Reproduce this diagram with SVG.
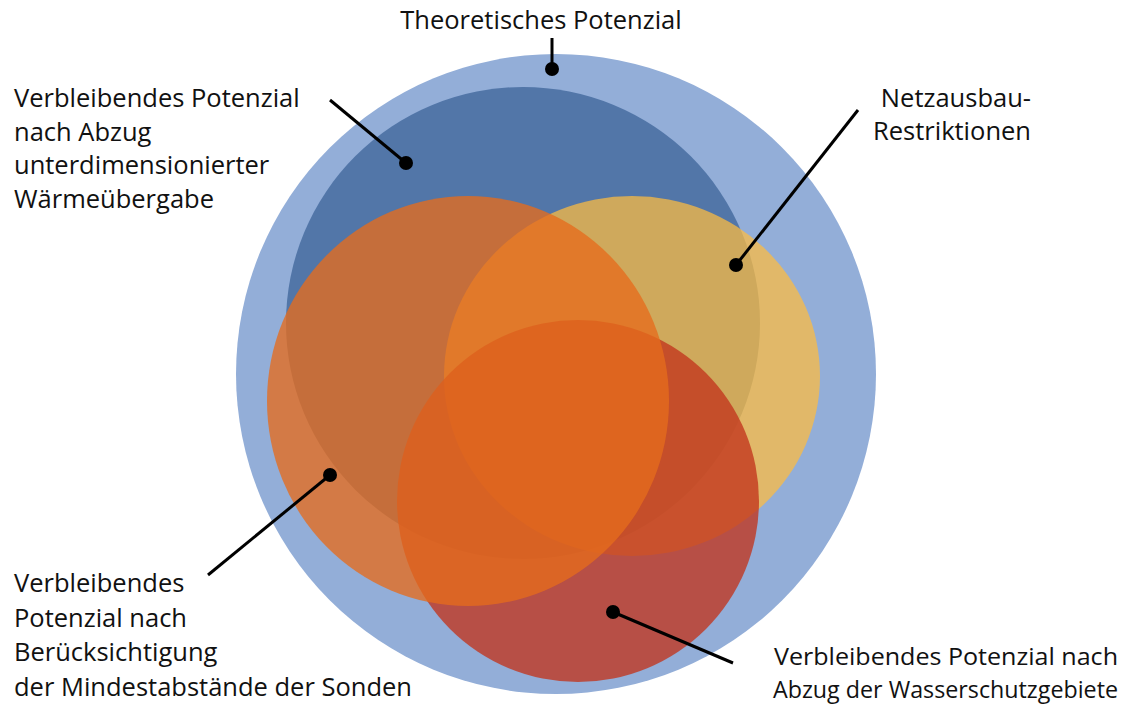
<svg xmlns="http://www.w3.org/2000/svg" width="1128" height="711" viewBox="0 0 1128 711">
  <style>
    .lbl { font-family: "Open Sans", "Liberation Sans", sans-serif; font-size: 25.5px; fill: #111; }
    .lbl-br { font-size: 24.5px; }
    .lead { stroke: #000; stroke-width: 3; fill: none; }
    .dot { fill: #000; }
  </style>
  <rect width="1128" height="711" fill="#fff"/>

  <!-- nested potential areas, translucent so overlaps mix -->
  <g id="theoretisch">
    <circle cx="556" cy="374" r="320" fill="#93AED8"/>
  </g>
  <g id="waermeuebergabe">
    <ellipse cx="523" cy="323" rx="237" ry="236" fill="#5276A8"/>
  </g>
  <g id="netzausbau">
    <ellipse cx="632" cy="376" rx="188" ry="180" fill="#FFBD3F" fill-opacity="0.72"/>
  </g>
  <g id="wasserschutz">
    <ellipse cx="578" cy="501" rx="181" ry="181" fill="#C2351C" fill-opacity="0.78"/>
  </g>
  <g id="mindestabstaende">
    <ellipse cx="468" cy="401" rx="201" ry="205" fill="#E56C1C" fill-opacity="0.78"/>
  </g>

  <g id="connectors">
    <line class="lead" x1="552" y1="38" x2="552" y2="69"/>
    <circle class="dot" cx="552" cy="69" r="7"/>
    <line class="lead" x1="330" y1="100" x2="406" y2="163"/>
    <circle class="dot" cx="406" cy="163" r="7"/>
    <line class="lead" x1="858" y1="110" x2="736" y2="265"/>
    <circle class="dot" cx="736" cy="265" r="7"/>
    <line class="lead" x1="208" y1="575" x2="330" y2="475"/>
    <circle class="dot" cx="330" cy="475" r="7"/>
    <line class="lead" x1="733" y1="663" x2="613" y2="612"/>
    <circle class="dot" cx="613" cy="612" r="7"/>
  </g>

  <g id="labels">
    <text class="lbl" x="541" y="29" text-anchor="middle">Theoretisches Potenzial</text>
    <text class="lbl" x="14" y="107">Verbleibendes Potenzial</text>
    <text class="lbl" x="14" y="141">nach Abzug</text>
    <text class="lbl" x="14" y="174">unterdimensionierter</text>
    <text class="lbl" x="14" y="208">Wärmeübergabe</text>
    <text class="lbl" x="1031" y="107" text-anchor="end">Netzausbau-</text>
    <text class="lbl" x="1031" y="140" text-anchor="end">Restriktionen</text>
    <text class="lbl" x="14" y="592">Verbleibendes</text>
    <text class="lbl" x="14" y="627">Potenzial nach</text>
    <text class="lbl" x="14" y="661">Berücksichtigung</text>
    <text class="lbl" x="14" y="696">der Mindestabstände der Sonden</text>
    <text class="lbl lbl-br" x="774" y="665" textLength="344" lengthAdjust="spacingAndGlyphs">Verbleibendes Potenzial nach</text>
    <text class="lbl lbl-br" x="773" y="698" textLength="345" lengthAdjust="spacingAndGlyphs">Abzug der Wasserschutzgebiete</text>
  </g>
</svg>
